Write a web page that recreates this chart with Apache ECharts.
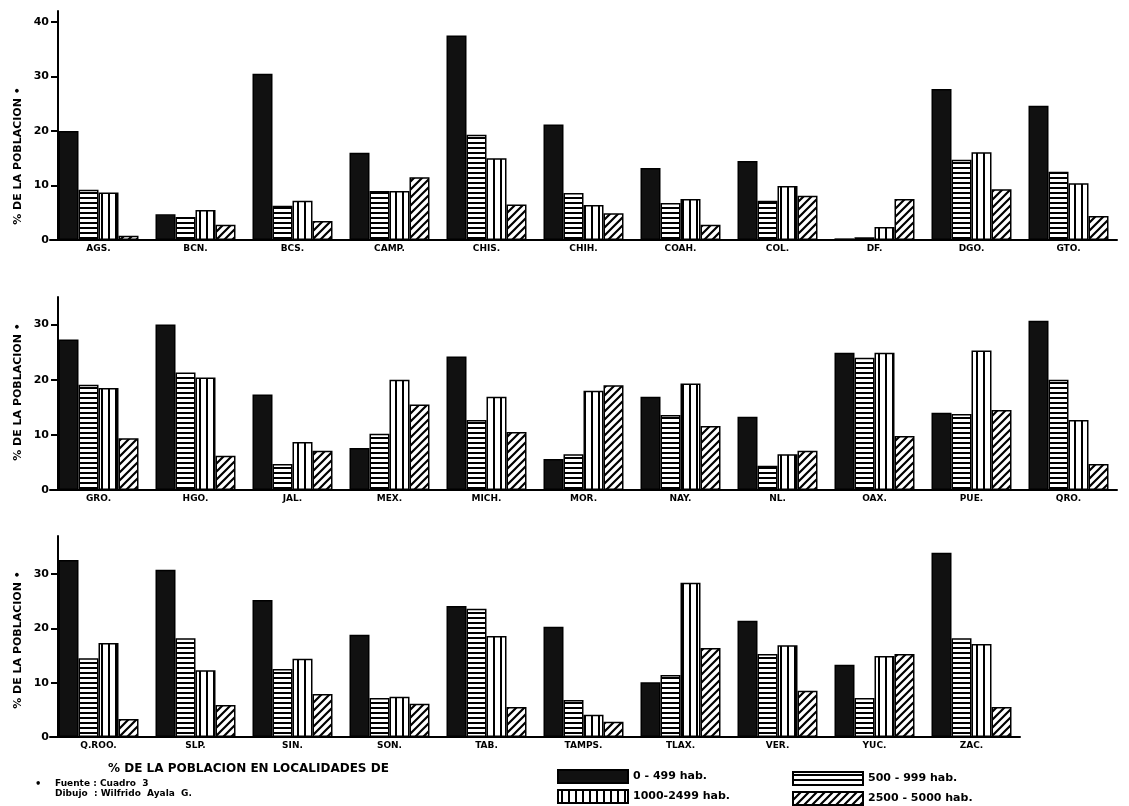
<!DOCTYPE html>
<html lang="es">
<head>
    <meta charset="UTF-8">
    <title>% de la poblacion en localidades</title>
    <script src="https://cdn.jsdelivr.net/npm/echarts@6/dist/echarts.min.js"></script>
    <style>
        html, body { margin: 0; padding: 0; background: #fff; }
    </style>
</head>
<body>
    <div id="chart" style="width: 1129px; height: 806px;"></div>

    <script>
// datos (% de la poblacion)
const states1 = ['AGS.', 'BCN.', 'BCS.', 'CAMP.', 'CHIS.', 'CHIH.', 'COAH.', 'COL.', 'DF.', 'DGO.', 'GTO.'];
const hab0_1 = [20, 4.7, 30.5, 16, 37.5, 21.2, 13.2, 14.5, 0.3, 27.7, 24.6];
const hab500_1 = [9.2, 4.2, 6.3, 9, 19.3, 8.6, 6.8, 7.2, 0.5, 14.7, 12.5];
const hab1000_1 = [8.7, 5.5, 7.2, 9, 15, 6.4, 7.5, 9.9, 2.4, 16.1, 10.4];
const hab2500_1 = [0.8, 2.8, 3.5, 11.5, 6.5, 4.9, 2.8, 8.1, 7.5, 9.3, 4.4];

const states2 = ['GRO.', 'HGO.', 'JAL.', 'MEX.', 'MICH.', 'MOR.', 'NAY.', 'NL.', 'OAX.', 'PUE.', 'QRO.'];
const hab0_2 = [27.3, 30, 17.3, 7.6, 24.2, 5.6, 16.9, 13.3, 24.9, 14, 30.7];
const hab500_2 = [19.1, 21.3, 4.7, 10.2, 12.7, 6.5, 13.6, 4.4, 24, 13.8, 20];
const hab1000_2 = [18.5, 20.4, 8.7, 20, 16.9, 18, 19.3, 6.5, 24.9, 25.3, 12.7];
const hab2500_2 = [9.4, 6.2, 7.1, 15.5, 10.5, 19, 11.6, 7.1, 9.8, 14.5, 4.7];

const states3 = ['Q.ROO.', 'SLP.', 'SIN.', 'SON.', 'TAB.', 'TAMPS.', 'TLAX.', 'VER.', 'YUC.', 'ZAC.'];
const hab0_3 = [32.6, 30.8, 25.2, 18.8, 24.1, 20.3, 10.1, 21.4, 13.3, 33.9];
const hab500_3 = [14.5, 18.2, 12.5, 7.2, 23.6, 6.8, 11.4, 15.3, 7.2, 18.2];
const hab1000_3 = [17.3, 12.3, 14.4, 7.4, 18.6, 4.1, 28.4, 16.9, 14.9, 17.1];
const hab2500_3 = [3.3, 5.9, 7.9, 6.1, 5.5, 2.8, 16.4, 8.5, 15.3, 5.5];

const rangeNames = ['0 - 499 hab.', '500 - 999 hab.', '1000-2499 hab.', '2500 - 5000 hab.'];
const yTicks1 = [0, 10, 20, 30, 40];
const yTicks2 = [0, 10, 20, 30];
const yTicks3 = [0, 10, 20, 30];

// tramas en blanco y negro
function makePattern(kind) {
    const c = document.createElement('canvas');
    const ctx = c.getContext('2d');
    if (kind === 'horiz') {
        c.width = 8; c.height = 5;
        ctx.fillStyle = '#fff'; ctx.fillRect(0, 0, 8, 5);
        ctx.fillStyle = '#000'; ctx.fillRect(0, 2, 8, 2);
    } else if (kind === 'vert') {
        c.width = 7; c.height = 8;
        ctx.fillStyle = '#fff'; ctx.fillRect(0, 0, 7, 8);
        ctx.fillStyle = '#000'; ctx.fillRect(3, 0, 2, 8);
    } else {
        c.width = 8; c.height = 8;
        ctx.fillStyle = '#fff'; ctx.fillRect(0, 0, 8, 8);
        ctx.strokeStyle = '#000'; ctx.lineWidth = 2.2;
        ctx.beginPath();
        ctx.moveTo(-2, 10); ctx.lineTo(10, -2);
        ctx.moveTo(-6, 6); ctx.lineTo(6, -6);
        ctx.moveTo(2, 14); ctx.lineTo(14, 2);
        ctx.stroke();
    }
    return { image: c, repeat: 'repeat' };
}

const fills = ['#111', makePattern('horiz'), makePattern('vert'), makePattern('diag')];

const chartDom = document.getElementById('chart');
const myChart = echarts.init(chartDom);

const font = '"DejaVu Sans", sans-serif';

function makeSeries(idx, groups) {
    return groups.map((values, k) => ({
        name: rangeNames[k],
        type: 'bar',
        xAxisIndex: idx,
        yAxisIndex: idx,
        data: values,
        barWidth: 20,
        barGap: '0%',
        itemStyle: { color: fills[k], borderColor: '#000', borderWidth: 1.5 },
        emphasis: { disabled: true }
    }));
}

function xAxisFor(idx, cats) {
    return {
        type: 'category',
        gridIndex: idx,
        data: cats,
        axisLine: { lineStyle: { color: '#000', width: 2 } },
        axisTick: { show: false },
        axisLabel: { color: '#000', fontFamily: font, fontWeight: 'bold', fontSize: 9, margin: 4 }
    };
}

function yAxisFor(idx, max, ticks) {
    return {
        type: 'value',
        gridIndex: idx,
        min: 0,
        max: max,
        interval: 10,
        offset: -8,
        splitLine: { show: false },
        axisLine: { show: true, lineStyle: { color: '#000', width: 2 } },
        axisTick: { show: true, length: 7, lineStyle: { color: '#000', width: 2 }, customValues: ticks },
        axisLabel: { color: '#000', fontFamily: font, fontWeight: 'bold', fontSize: 11, margin: 9, customValues: ticks }
    };
}

function yTitle(y) {
    return {
        type: 'text',
        x: 18,
        y: y,
        rotation: Math.PI / 2,
        style: {
            text: '% DE LA POBLACION •',
            font: 'bold 11px ' + font,
            fill: '#000',
            align: 'center',
            verticalAlign: 'middle'
        }
    };
}

function legendAt(names, left, top) {
    return {
        data: names,
        orient: 'vertical', left: left, top: top, itemGap: 5, padding: 0,
        icon: 'rect', itemWidth: 70, itemHeight: 13, selectedMode: false,
        textStyle: { color: '#000', fontFamily: font, fontWeight: 'bold', fontSize: 11 }
    };
}

const option = {
    animation: false,
    backgroundColor: '#fff',
    grid: [
        { left: 50, top: 11, width: 1067, height: 229 },
        { left: 50, top: 297, width: 1067, height: 193 },
        { left: 50, top: 536, width: 970, height: 201 }
    ],
    xAxis: [xAxisFor(0, states1), xAxisFor(1, states2), xAxisFor(2, states3)],
    yAxis: [yAxisFor(0, 42, yTicks1), yAxisFor(1, 35, yTicks2), yAxisFor(2, 37, yTicks3)],
    legend: [
        legendAt([rangeNames[0], rangeNames[2]], 557, 769),
        legendAt([rangeNames[1], rangeNames[3]], 792, 771)
    ],
    graphic: [
        yTitle(156),
        yTitle(392),
        yTitle(640),
        {
            type: 'text', x: 108, y: 769,
            style: { text: '% DE LA POBLACION EN LOCALIDADES DE', font: 'bold 12px ' + font, fill: '#000', verticalAlign: 'middle' }
        },
        {
            type: 'text', x: 35, y: 784,
            style: { text: '•', font: 'bold 10px ' + font, fill: '#000', verticalAlign: 'middle' }
        },
        {
            type: 'text', x: 55, y: 784,
            style: { text: 'Fuente : Cuadro  3', font: 'bold 9px ' + font, fill: '#000', verticalAlign: 'middle' }
        },
        {
            type: 'text', x: 55, y: 794,
            style: { text: 'Dibujo  : Wilfrido  Ayala  G.', font: 'bold 9px ' + font, fill: '#000', verticalAlign: 'middle' }
        }
    ],
    series: [
        ...makeSeries(0, [hab0_1, hab500_1, hab1000_1, hab2500_1]),
        ...makeSeries(1, [hab0_2, hab500_2, hab1000_2, hab2500_2]),
        ...makeSeries(2, [hab0_3, hab500_3, hab1000_3, hab2500_3])
    ]
};

myChart.setOption(option);
    </script>
</body>
</html>
